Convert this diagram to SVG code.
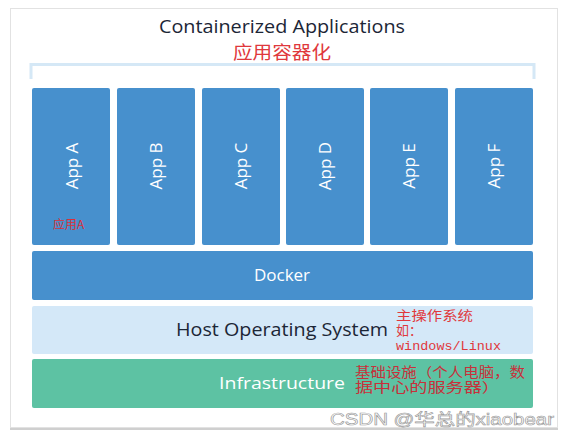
<svg xmlns="http://www.w3.org/2000/svg" width="569" height="437" viewBox="0 0 569 437">
<style>
.app{fill:#4790cd}
.lbl{font-family:"Open Sans","Liberation Sans",sans-serif;font-size:17px;fill:#ffffff;text-anchor:middle}
.dark{font-family:"Open Sans","Liberation Sans",sans-serif;font-size:18px;fill:#1c2636}
.red{font-family:"Noto Sans CJK SC",sans-serif;fill:#e0383c}
.mono{font-family:"Liberation Mono","Noto Sans CJK SC",monospace}
</style>
<rect x="0" y="0" width="569" height="437" fill="#ffffff"/>
<rect x="10.5" y="8.5" width="547" height="419" fill="#ffffff" stroke="#e2e2e2" stroke-width="1"/>
<line x1="10" y1="429" x2="558" y2="429" stroke="#cfcfcf" stroke-width="2"/>
<g id="title">
<text x="282" y="33" class="dark" font-size="19" text-anchor="middle" font-weight="500" textLength="246" lengthAdjust="spacingAndGlyphs">Containerized Applications</text>
<text x="282" y="59" class="red" font-size="18" text-anchor="middle" textLength="98" lengthAdjust="spacingAndGlyphs">应用容器化</text>
</g>
<g id="connectors">
<path d="M31,79 V64.5 H534 V79" fill="none" stroke="#d5e8f6" stroke-width="3"/>
</g>
<g id="appA"><rect class="app" x="32" y="88" width="78" height="157" rx="2"/><text class="lbl" transform="translate(78,166) rotate(-90)">App A</text>
<text x="53" y="229" class="red" font-size="12" style="fill:#d8303a">应用A</text></g>
<g id="appB"><rect class="app" x="117" y="88" width="78" height="157" rx="2"/><text class="lbl" transform="translate(162,166) rotate(-90)">App B</text></g>
<g id="appC"><rect class="app" x="202" y="88" width="78" height="157" rx="2"/><text class="lbl" transform="translate(247,166) rotate(-90)">App C</text></g>
<g id="appD"><rect class="app" x="286" y="88" width="78" height="157" rx="2"/><text class="lbl" transform="translate(331,166) rotate(-90)">App D</text></g>
<g id="appE"><rect class="app" x="370" y="88" width="78" height="157" rx="2"/><text class="lbl" transform="translate(415,166) rotate(-90)">App E</text></g>
<g id="appF"><rect class="app" x="455" y="88" width="78" height="157" rx="2"/><text class="lbl" transform="translate(500,166) rotate(-90)">App F</text></g>
<g id="docker"><rect class="app" x="32" y="251" width="501" height="49" rx="2"/><text class="lbl" x="282" y="281" font-size="18">Docker</text></g>
<g id="hostos"><rect x="32" y="306" width="501" height="48" rx="2" fill="#d4e8f8"/>
<text x="176" y="336" class="dark" textLength="212" lengthAdjust="spacingAndGlyphs">Host Operating System</text>
<text class="red" font-size="13"><tspan x="396" y="320" textLength="77" lengthAdjust="spacingAndGlyphs">主操作系统</tspan><tspan x="396" y="335">如：</tspan><tspan x="396" y="350" class="mono" font-size="13.5" textLength="105" lengthAdjust="spacingAndGlyphs">windows/Linux</tspan></text>
</g>
<g id="infra"><rect x="32" y="359" width="501" height="49" rx="2" fill="#5dc2a3"/>
<text x="219" y="389" class="lbl" style="text-anchor:start" font-size="18" textLength="126" lengthAdjust="spacingAndGlyphs">Infrastructure</text>
<text class="red" font-size="13.5" style="fill:#c8303a"><tspan x="355" y="377" textLength="170" lengthAdjust="spacingAndGlyphs">基础设施（个人电脑，数</tspan><tspan x="355" y="392" textLength="145" lengthAdjust="spacingAndGlyphs">据中心的服务器）</tspan></text>
</g>
<text x="330" y="425" font-family="Liberation Sans,Noto Sans CJK SC,sans-serif" font-size="16" fill="#ffffff" stroke="#9a9a9a" stroke-width="0.6" textLength="224" lengthAdjust="spacingAndGlyphs">CSDN @华总的xiaobear</text>
</svg>
